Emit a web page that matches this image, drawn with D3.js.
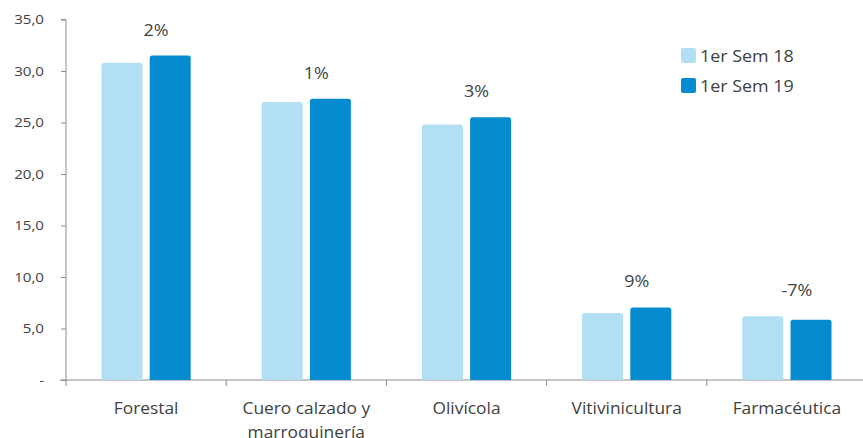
<!DOCTYPE html>
<html>
<head>
<meta charset="utf-8">
<script src="https://cdn.jsdelivr.net/npm/d3@7/dist/d3.min.js"></script>
<style>
  html, body { margin: 0; padding: 0; background: #fff; }
  svg { display: block; font-family: "Open Sans", sans-serif; }
</style>
</head>
<body>
<svg id="chart" width="863" height="438"></svg>
<script>
// Sector exports, first half 2018 vs first half 2019
const categories = ["Forestal", "Cuero calzado y marroquinería", "Olivícola", "Vitivinicultura", "Farmacéutica"];
const categoryLines = [["Forestal"], ["Cuero calzado y", "marroquinería"], ["Olivícola"], ["Vitivinicultura"], ["Farmacéutica"]];
const seriesNames = ["1er Sem 18", "1er Sem 19"];
const sem18 = [30.8, 27.0, 24.8, 6.5, 6.2];
const sem19 = [31.5, 27.3, 25.5, 7.05, 5.85];
const changeLabels = ["2%", "1%", "3%", "9%", "-7%"];
const yTicks = [0, 5, 10, 15, 20, 25, 30, 35];
const colors = ["#b3dff5", "#078bd0"];

const svg = d3.select("#chart");
const textColor = "#404040";
const axisColor = "#8c8c8c";
const stretch = 1.12; // text is set slightly wide

const y = d3.scaleLinear().domain([0, 35]).range([380, 19.5]);
const x0 = d3.scaleBand().domain(categories).range([66, 867]).paddingInner(0).paddingOuter(0);
const x1 = d3.scaleBand().domain(seriesNames)
  .range([35.5, x0.bandwidth() - 35.5]).paddingInner(0.15).paddingOuter(0);

const fmt = v => v === 0 ? "-" : d3.format(".1f")(v).replace(".", ",");

// Y axis
const yAxis = d3.axisLeft(y).tickValues(yTicks).tickSize(5).tickFormat(fmt);
const gy = svg.append("g").attr("transform", "translate(66,0)").call(yAxis);
gy.select(".domain").attr("stroke", axisColor).attr("d", `M-5,${y(35)}H0V${y(0)}`);
gy.selectAll(".tick line").attr("stroke", axisColor);
gy.selectAll(".tick text")
  .attr("x", -22 / stretch)
  .attr("transform", `scale(${stretch},1)`)
  .attr("fill", textColor).style("font-size", "13.5px")
  .style("font-family", "'Open Sans', sans-serif");

// X axis
const xAxis = d3.axisBottom(x0).tickSize(0).tickFormat("");
const gx = svg.append("g").attr("transform", `translate(0,${y(0)})`).call(xAxis);
gx.select(".domain").attr("stroke", axisColor).attr("d", "M60,0H863");
// category separators
const edges = categories.map(c => x0(c)).concat([x0.range()[1]]);
gx.selectAll("line.sep").data(edges).join("line").attr("class", "sep")
  .attr("x1", d => d).attr("x2", d => d).attr("y1", 0).attr("y2", 6)
  .attr("stroke", axisColor);

// Category labels
const catG = svg.append("g");
categories.forEach((c, i) => {
  const t = catG.append("text")
    .attr("transform", `translate(${x0(c) + x0.bandwidth() / 2},414) scale(${stretch},1)`)
    .attr("text-anchor", "middle")
    .attr("fill", textColor)
    .style("font-size", "15.5px");
  categoryLines[i].forEach((line, j) => {
    t.append("tspan").attr("x", 0).attr("dy", j === 0 ? 0 : 24).text(line);
  });
});

// Bars with slightly rounded tops
function barPath(x, w, y0, y1, r) {
  r = Math.min(r, (y0 - y1) / 2);
  return `M${x},${y0}V${y1 + r}Q${x},${y1} ${x + r},${y1}H${x + w - r}Q${x + w},${y1} ${x + w},${y1 + r}V${y0}Z`;
}
const rows = categories.map((c, i) => ({ cat: c, vals: [sem18[i], sem19[i]] }));
const groups = svg.append("g").selectAll("g").data(rows).join("g")
  .attr("transform", d => `translate(${x0(d.cat)},0)`);
groups.selectAll("path").data(d => d.vals.map((v, k) => ({ v, k })))
  .join("path")
  .attr("d", d => barPath(x1(seriesNames[d.k]), x1.bandwidth(), y(0), y(d.v), 2.5))
  .attr("fill", d => colors[d.k]);

// Change labels above each pair
svg.append("g").selectAll("text").data(rows).join("text")
  .attr("transform", d => `translate(${x0(d.cat) + x0.bandwidth() / 2 + 10},${y(Math.max(...d.vals)) - 20}) scale(${stretch},1)`)
  .attr("text-anchor", "middle")
  .attr("fill", textColor)
  .style("font-size", "16px")
  .text((d, i) => changeLabels[i]);

// Legend
const legend = svg.append("g").attr("transform", "translate(681,48)");
seriesNames.forEach((s, i) => {
  const g = legend.append("g").attr("transform", `translate(0,${i * 30})`);
  g.append("rect").attr("width", 15).attr("height", 15).attr("rx", 2).attr("fill", colors[i]);
  g.append("text").attr("transform", `translate(19,13.5) scale(${stretch},1)`).attr("fill", textColor)
    .style("font-size", "16px").text(s);
});
</script>
</body>
</html>
